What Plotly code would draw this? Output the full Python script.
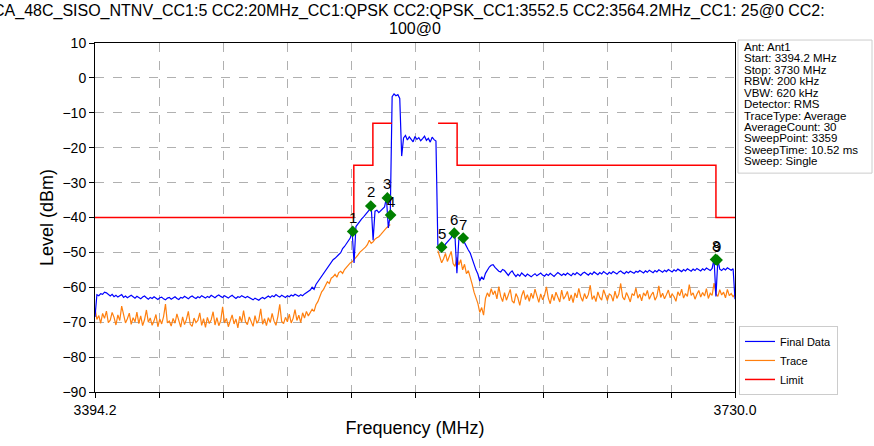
import numpy as np
import plotly.graph_objects as go

# Sweep range (MHz)
f_start = 3394.2
f_stop = 3730.0

# Final Data trace (dBm), one value per ~1 MHz bin
final_data = [
    -68.5, -62.1, -62.4, -61.8, -62.0, -61.4, -61.6, -62.2, -62.5, -62.0,
    -62.7, -62.3, -62.8, -62.4, -62.1, -62.9, -62.5, -63.0, -62.6, -62.3,
    -62.7, -63.1, -62.6, -62.9, -63.3, -62.8, -62.5, -63.0, -63.4, -62.9,
    -63.2, -62.7, -63.1, -63.5, -63.0, -62.8, -63.3, -63.6, -63.1, -62.9,
    -63.4, -63.0, -62.7, -63.2, -63.5, -62.9, -63.1, -62.6, -63.0, -63.3,
    -62.8, -62.5, -62.9, -63.2, -62.7, -63.0, -62.4, -62.8, -63.1, -62.6,
    -62.9, -62.3, -62.7, -63.0, -62.5, -62.2, -62.6, -62.9, -62.4, -62.8,
    -63.1, -62.6, -62.3, -62.8, -63.2, -62.7, -62.9, -62.4, -62.7, -63.0,
    -62.6, -62.9, -63.3, -63.6, -63.1, -63.4, -63.7, -63.2, -62.9, -63.3,
    -62.8, -62.5, -62.9, -62.4, -62.7, -62.1, -62.5, -62.8, -62.3, -62.6,
    -62.9, -62.4, -62.7, -62.2, -62.5, -62.0, -62.3, -62.6, -62.1, -62.4,
    -61.9, -61.6, -61.2, -60.8, -60.0, -60.6, -59.2, -58.4, -57.6, -57.0,
    -56.1, -55.5, -54.6, -53.8, -53.0, -52.1, -51.7, -51.0, -50.6, -50.1,
    -48.9, -48.3, -47.6, -46.8, -45.9, -44.0, -53.0, -42.6, -41.8, -41.0,
    -40.4, -39.8, -39.2, -38.3, -37.8, -36.7, -46.5, -38.2, -37.9, -38.6,
    -38.1, -37.4, -37.0, -34.4, -43.0, -39.3, -5.4, -4.6, -5.1, -4.8,
    -5.9, -22.4, -17.2, -16.5, -17.8, -16.9, -17.5, -18.3, -16.8, -17.6,
    -17.1, -18.0, -17.4, -16.7, -17.9, -17.3, -18.4, -17.0, -17.7, -18.1,
    -47.8, -49.6, -48.5, -48.9, -47.6, -47.0, -46.4, -45.8, -44.5, -45.5,
    -56.0, -46.4, -46.0, -45.9, -47.2, -48.5, -49.3, -50.2, -52.0, -53.6,
    -55.0, -56.2, -58.2, -57.0, -57.8, -56.0, -55.0, -54.2, -53.7, -53.5,
    -54.3, -54.8, -55.4, -55.6, -54.9, -55.2, -56.0, -56.6, -55.8, -55.3,
    -56.2, -56.9, -56.3, -56.8, -55.9, -56.4, -56.9, -56.2, -56.6, -57.0,
    -56.5, -56.1, -56.7, -56.3, -55.9, -56.5, -56.8, -56.2, -56.6, -56.0,
    -56.4, -56.9, -56.3, -55.8, -56.2, -56.6, -56.1, -56.5, -55.9, -56.3,
    -56.7, -56.0, -56.4, -55.8, -56.2, -56.6, -56.0, -55.7, -56.1, -56.5,
    -55.9, -56.3, -55.6, -56.0, -56.4, -55.8, -56.2, -55.5, -55.9, -56.3,
    -55.7, -56.1, -55.5, -55.9, -56.2, -55.6, -55.3, -55.8, -56.1, -55.5,
    -55.9, -55.4, -55.8, -56.0, -55.4, -55.7, -55.2, -55.6, -55.9, -55.3,
    -55.7, -55.1, -55.5, -55.8, -55.2, -55.6, -55.0, -55.4, -55.7, -55.1,
    -55.5, -54.9, -55.3, -55.6, -55.0, -55.4, -54.8, -55.2, -55.5, -54.9,
    -55.3, -54.7, -55.1, -55.4, -54.8, -55.2, -54.6, -55.0, -55.3, -54.7,
    -55.1, -54.5, -54.9, -55.2, -54.6, -51.9, -62.6, -52.1, -54.8, -55.2,
    -54.6, -55.0, -54.4, -54.8, -55.1, -54.7, -63.4,
]

# Trace (dBm), same bins; in-band part hidden under Final Data
trace_data = [
    -66.0, -69.2, -68.1, -70.3, -67.5, -68.9, -66.8, -70.1, -69.4, -67.2,
    -68.6, -70.8, -67.9, -69.5, -65.4, -68.3, -70.2, -69.0, -67.4, -70.6,
    -68.7, -69.9, -67.1, -70.4, -68.2, -71.0, -69.3, -66.5, -70.0, -68.8,
    -70.9, -69.6, -67.8, -71.3, -69.1, -70.5, -68.4, -64.8, -70.2, -69.7,
    -71.1, -68.9, -70.3, -67.6, -69.8, -71.4, -68.5, -70.7, -69.2, -66.9,
    -70.6, -71.2, -68.8, -70.1, -69.5, -67.3, -70.9, -69.0, -71.5, -68.6,
    -70.4, -69.3, -67.0, -70.8, -68.7, -71.0, -69.6, -65.6, -70.2, -68.9,
    -71.3, -69.8, -67.9, -70.5, -69.1, -71.6, -68.3, -70.0, -66.7, -69.9,
    -70.7, -68.5, -69.9, -71.2, -68.1, -70.3, -69.4, -66.2, -70.6, -69.0,
    -71.0, -68.7, -70.1, -67.5, -69.7, -70.9, -68.4, -64.9, -69.8, -70.4,
    -68.6, -69.9, -67.7, -70.2, -68.9, -66.4, -69.5, -68.0, -70.1, -67.3,
    -68.8, -66.9, -68.2, -67.1, -66.3, -66.9, -65.0, -64.1, -62.8, -61.3,
    -60.6, -59.5, -58.4, -58.9, -57.4, -57.0, -56.3, -57.1, -55.8, -55.4,
    -56.0, -54.9, -54.3, -53.5, -53.0, -52.7, -52.1, -51.6, -50.8, -50.0,
    -49.6, -49.0, -48.5, -47.8, -46.5, -47.4, -47.0, -46.2, -45.8, -45.5,
    -44.9, -44.2, -43.7, -43.0, -42.5, -42.0, None, None, None, None,
    None, None, None, None, None, None, None, None, None, None,
    None, None, None, None, None, None, None, None, None, None,
    -49.5, -51.2, -53.0, -51.8, -50.3, -52.6, -50.9, -49.7, -53.2, -54.0,
    -51.4, -53.6, -52.1, -55.0, -53.4, -56.1, -55.2, -57.6, -59.1, -61.4,
    -63.0, -64.6, -67.2, -65.8, -68.0, -63.2, -61.6, -62.7, -60.4, -62.1,
    -61.0, -63.3, -59.8, -62.6, -64.1, -61.5, -63.7, -62.2, -60.6, -63.9,
    -64.5, -61.8, -63.0, -65.2, -62.4, -60.9, -63.5, -62.1, -64.0, -61.7,
    -63.2, -60.5, -62.8, -64.3, -61.9, -63.6, -62.3, -59.9, -63.1, -64.7,
    -62.0, -63.8, -61.4, -62.9, -64.2, -60.8, -63.4, -62.5, -61.2, -63.9,
    -62.2, -64.4, -61.6, -63.0, -60.3, -62.7, -64.0, -61.8, -63.3, -62.1,
    -59.4, -63.5, -62.4, -64.1, -61.3, -62.9, -63.7, -60.7, -62.6, -63.8,
    -61.9, -62.3, -64.0, -61.1, -63.2, -62.0, -58.9, -62.8, -63.6, -61.5,
    -62.7, -64.2, -61.8, -62.4, -60.2, -63.1, -62.0, -63.9, -61.6, -62.5,
    -60.9, -63.4, -62.2, -61.4, -63.7, -62.6, -59.6, -62.9, -61.7, -63.3,
    -62.1, -60.8, -63.0, -61.9, -62.7, -64.0, -61.3, -62.4, -60.5, -63.1,
    -61.8, -62.6, -59.2, -62.3, -61.6, -63.4, -62.0, -60.9, -62.8, -61.5,
    -62.5, -60.4, -63.2, -61.7, -62.3, -58.8, -61.9, -62.6, -60.7, -62.2,
    -61.4, -63.0, -60.6, -62.4, -61.8, -62.7, -62.0,
]

# Limit mask
limit_freq = [3394.2, 3530.0, 3530.0, 3540.0, 3540.0, 3550.0, None,
              3574.2, 3584.2, 3584.2, 3720.0, 3720.0, 3730.0]
limit_level = [-40, -40, -25, -25, -13, -13, None,
               -13, -13, -25, -25, -40, -40]

# Markers
marker_freq = [3529.4, 3538.9, 3547.6, 3549.3, 3576.1, 3582.7, 3587.4, 3719.8, 3720.6]
marker_level = [-44.0, -36.7, -34.4, -39.3, -48.5, -44.5, -45.9, -52.0, -52.2]
marker_names = ["1", "2", "3", "4", "5", "6", "7", "8", "9"]

# Axis ticks
x_tick_vals = list(np.linspace(f_start, f_stop, 11))
x_tick_text = ["3394.2", "", "", "", "", "", "", "", "", "", "3730.0"]
y_tick_vals = [10, 0, -10, -20, -30, -40, -50, -60, -70, -80, -90]

title_line1 = "CA_48C_SISO_NTNV_CC1:5 CC2:20MHz_CC1:QPSK CC2:QPSK_CC1:3552.5 CC2:3564.2MHz_CC1: 25@0 CC2:"
title_line2 = "100@0"

info_lines = ["Ant: Ant1", "Start: 3394.2 MHz", "Stop: 3730 MHz", "RBW: 200 kHz",
              "VBW: 620 kHz", "Detector: RMS", "TraceType: Average", "AverageCount: 30",
              "SweepPoint: 3359", "SweepTime: 10.52 ms", "Sweep: Single"]

freq_final = np.linspace(f_start, f_stop, len(final_data))
freq_trace = np.linspace(f_start, f_stop, len(trace_data))

FONT = "Liberation Sans, Arial, sans-serif"

fig = go.Figure()

fig.add_trace(go.Scatter(x=freq_trace, y=trace_data, mode="lines", name="Trace",
                         line=dict(color="#ff7f0e", width=1.2), legendrank=2))
fig.add_trace(go.Scatter(x=freq_final, y=final_data, mode="lines", name="Final Data",
                         line=dict(color="#0000ff", width=1.2), legendrank=1))
fig.add_trace(go.Scatter(x=limit_freq, y=limit_level, mode="lines", name="Limit",
                         line=dict(color="#ff0000", width=1.5), connectgaps=False,
                         legendrank=3))
fig.add_trace(go.Scatter(x=marker_freq, y=marker_level, mode="markers",
                         marker=dict(symbol="diamond", size=9, color="#008000"),
                         showlegend=False))

# marker numbers just above each diamond
for mf, ml, mn in zip(marker_freq, marker_level, marker_names):
    fig.add_annotation(x=mf, y=ml, text=mn, showarrow=False, yshift=14,
                       font=dict(size=15, color="black", family=FONT))

# Title, wrapped onto two lines (first line runs off the left edge)
fig.add_annotation(text=title_line1, xref="paper", yref="paper",
                   x=(409 - 95) / 640, y=(397 - 11) / 354, xanchor="center", yanchor="middle",
                   showarrow=False, font=dict(size=16, color="black", family=FONT))
fig.add_annotation(text=title_line2, xref="paper", yref="paper",
                   x=0.5, y=(397 - 28) / 354, xanchor="center", yanchor="middle",
                   showarrow=False, font=dict(size=16, color="black", family=FONT))

# Info box on the right
fig.add_shape(type="rect", xref="paper", yref="paper",
              x0=(738 - 95) / 640, x1=(872 - 95) / 640,
              y0=(397 - 175) / 354, y1=(397 - 40) / 354,
              line=dict(color="#cccccc", width=1), fillcolor="white")
for k, line in enumerate(info_lines):
    fig.add_annotation(text=line, xref="paper", yref="paper",
                       x=(742 - 95) / 640, y=(397 - (47 + k * 11.6)) / 354,
                       xanchor="left", yanchor="middle", showarrow=False,
                       font=dict(size=11.5, color="black", family=FONT))

fig.update_xaxes(range=[f_start, f_stop], tickvals=x_tick_vals, ticktext=x_tick_text,
                 ticks="outside", ticklen=5, tickcolor="black",
                 showline=True, linecolor="black", mirror=True,
                 showgrid=True, gridcolor="#b0b0b0", griddash="dash", gridwidth=1,
                 zeroline=False, tickfont=dict(size=14, color="black"),
                 title=dict(text="Frequency (MHz)", font=dict(size=18, color="black"), standoff=4))
fig.update_yaxes(range=[-90, 10], tickvals=y_tick_vals,
                 ticks="outside", ticklen=5, tickcolor="black",
                 showline=True, linecolor="black", mirror=True,
                 showgrid=True, gridcolor="#b0b0b0", griddash="dash", gridwidth=1,
                 zeroline=False, tickfont=dict(size=14, color="black"),
                 title=dict(text="Level (dBm)", font=dict(size=18, color="black"), standoff=4))

fig.update_layout(
    width=874, height=446,
    margin=dict(l=95, r=139, t=43, b=49),
    paper_bgcolor="white", plot_bgcolor="white",
    font=dict(family=FONT, color="black"),
    legend=dict(x=(739 - 95) / 640, y=(397 - 400) / 354, xanchor="left", yanchor="bottom",
                bordercolor="#cccccc", borderwidth=1, bgcolor="white",
                font=dict(size=11, color="black", family=FONT),
                tracegroupgap=0),
    showlegend=True,
)

# drop the default page margin so the figure sits at the window's corner
fig.write_html("out.html", config={"displayModeBar": False},
               post_script="document.body.style.margin='0';")
